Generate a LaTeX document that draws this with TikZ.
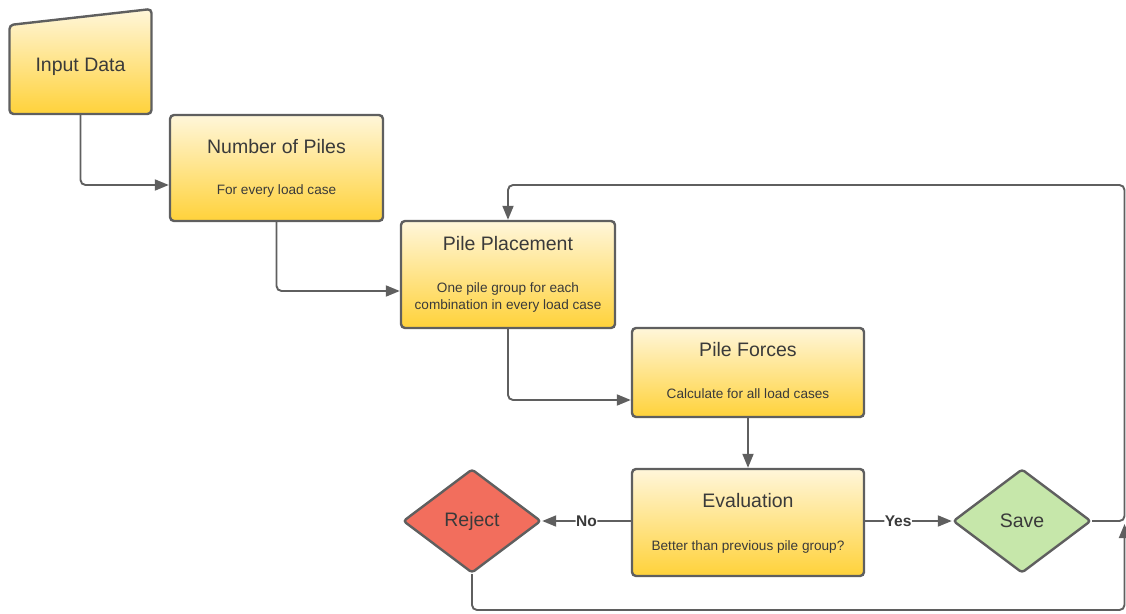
\documentclass[tikz,border=0pt]{standalone}
\usepackage{fontspec}
\setmainfont{Liberation Sans}
\usetikzlibrary{shapes.geometric,arrows.meta,calc}
\definecolor{edge}{HTML}{5F5F5F}
\definecolor{txt}{HTML}{3A3A3A}
\definecolor{ytop}{HTML}{FFF6DA}
\definecolor{ybot}{HTML}{FFD23A}
\definecolor{rejfill}{HTML}{F26E5D}
\definecolor{savefill}{HTML}{C6E7AA}
\tikzset{
  box/.style={draw=edge, line width=2.4pt, rounded corners=4pt, top color=ytop, bottom color=ybot, inner sep=0pt},
  dia/.style={diamond, draw=edge, line width=2.4pt, rounded corners=3pt, minimum width=138pt, minimum height=104pt, inner sep=0pt, text=txt, font=\fontsize{19.5}{23}\selectfont},
  ttl/.style={text=txt, font=\fontsize{19.5}{23}\selectfont},
  sub/.style={text=txt, font=\fontsize{13.6}{17}\selectfont, align=center},
  conn/.style={draw=edge, line width=1.9pt, rounded corners=5pt, -{Triangle[length=14pt,width=11pt]}},
  lab/.style={text=txt, font=\bfseries\fontsize{15.5}{18}\selectfont, fill=white, inner sep=0.5pt}
}
\begin{document}
\begin{tikzpicture}[x=1pt,y=-1pt]
\useasboundingbox (0,0) rectangle (1126,613);
% Input data (manual input shape)
\node[minimum width=143pt, minimum height=105pt, inner sep=0pt] (in) at (80.5,61.5) {};
\shade[top color=ytop, bottom color=ybot, draw=edge, line width=2.4pt, rounded corners=4pt]
  (9.5,25) -- (151.5,9) -- (151.5,114) -- (9.5,114) -- cycle;
\node[ttl] (inT) at (80.5,67) {Input Data};
% boxes
\node[box, minimum width=213pt, minimum height=106pt] (np) at (276.5,168) {};
\node[ttl] (npT) at (276.5,147) {Number of Piles};
\node[sub] (npS) at (276.5,191) {For every load case};
\node[box, minimum width=214pt, minimum height=107pt] (pp) at (508,274.5) {};
\node[ttl] (ppT) at (508,244) {Pile Placement};
\node[sub] (ppS) at (508,297.5) {One pile group for each\\combination in every load case};
\node[box, minimum width=232pt, minimum height=89pt] (pf) at (748,372.5) {};
\node[ttl] (pfT) at (748,350) {Pile Forces};
\node[sub] (pfS) at (748,394) {Calculate for all load cases};
\node[box, minimum width=232pt, minimum height=107pt] (ev) at (748,522.5) {};
\node[ttl] (evT) at (748,501) {Evaluation};
\node[sub] (evS) at (748,547) {Better than previous pile group?};
% diamonds
\node[dia, fill=rejfill] (rj) at (472,521) {Reject};
\node[dia, fill=savefill] (sv) at (1022,521) {Save};
% connectors
\draw[conn] (in.south) |- ($(np.west)+(0,17)$);
\draw[conn] (np.south) |- ($(pp.west)+(0,16.5)$);
\draw[conn] (pp.south) |- ($(pf.west)+(0,27.5)$);
\draw[conn] (pf.south) -- (ev.north);
\draw[conn] (ev.west |- rj.east) -- (rj.east) node[lab, pos=0.5] {No};
\draw[conn] (ev.east |- sv.east) -- (sv.west) node[lab, pos=0.38] {Yes};
\coordinate (rt) at (1124.5,185);
\coordinate (rs) at (1124.5,521);
\coordinate (rb) at (1124.5,610);
\coordinate (ptop) at (508,185);
\draw[conn] (sv.east) -- (rs) -- (rt) -- (ptop) -- (pp.north);
\draw[conn] (rj.south) |- (rb) -- ($(rs)+(0,3)$);
\end{tikzpicture}
\end{document}
